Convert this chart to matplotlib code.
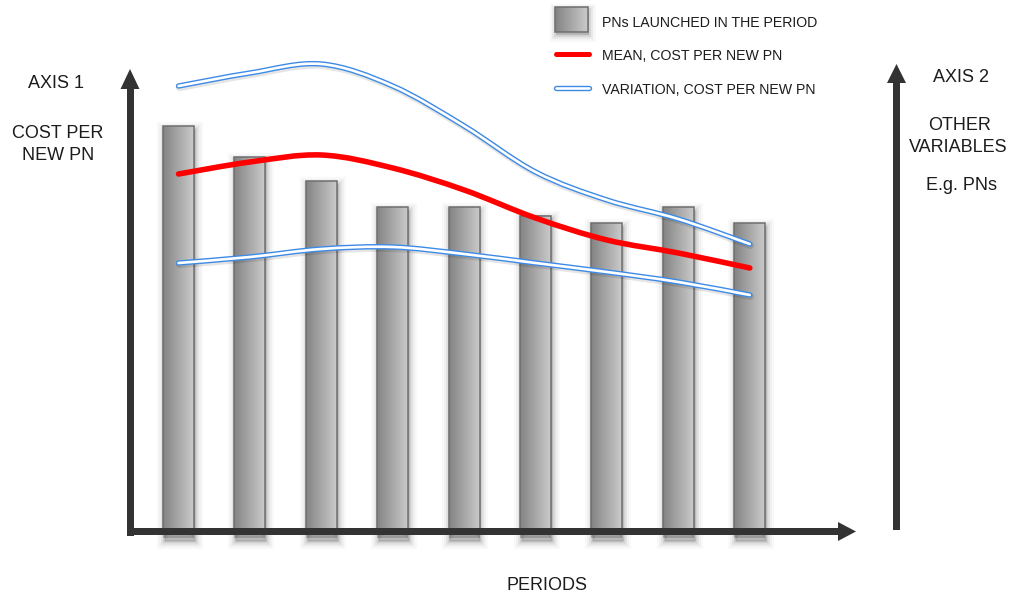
import numpy as np
import matplotlib
matplotlib.use("Agg")
import matplotlib.pyplot as plt
from matplotlib.path import Path
from matplotlib.patches import PathPatch, Polygon, Rectangle
from matplotlib.colors import LinearSegmentedColormap
import matplotlib.patheffects as pe

# ---- data -------------------------------------------------------------
periods = [1, 2, 3, 4, 5, 6, 7, 8, 9]
pns_launched = [101.5, 93.75, 87.75, 81.2, 81.2, 79.1, 77.25, 81.2, 77.25]
cost_mean = [89.5, 92.5, 94.25, 91.0, 85.5, 78.5, 73.0, 69.75, 66.0]
cost_upper = [111.5, 114.75, 117.0, 111.5, 101.5, 90.0, 83.0, 78.25, 72.0]
cost_lower = [67.25, 68.75, 70.75, 71.25, 69.5, 67.25, 65.0, 62.5, 59.25]

legend_labels = ["PNs LAUNCHED IN THE PERIOD",
                 "MEAN, COST PER NEW PN",
                 "VARIATION, COST PER NEW PN"]

# ---- style ------------------------------------------------------------
plt.rcParams["font.family"] = ["Liberation Sans", "DejaVu Sans"]
TXT = "#1c1c1c"
AXC = "#333333"
RED = "#ff0000"
BLUE = "#3d8be6"
bar_cmap = LinearSegmentedColormap.from_list("bar", ["#848484", "#cacaca"])
grad = np.linspace(0, 1, 64).reshape(1, -1)

W, H = 1014, 594
fig = plt.figure(figsize=(W / 100, H / 100), dpi=100)

# data axes: one period = 71.4 px, one value unit = 4 px
ax = fig.add_axes([0, 0, 1, 1])
ax.axis("off")

bar_w = 0.434
shadow_fx = [pe.Stroke(linewidth=lw, foreground="black", alpha=a, offset=(0.5, -2))
             for lw, a in [(11, 0.025), (8, 0.035), (5, 0.05), (2.5, 0.08)]]
ax.bar(periods, [h + 1.5 for h in pns_launched], bottom=-1.5, width=bar_w,
       facecolor=(0, 0, 0, 0.22), edgecolor="none", linewidth=1, zorder=1,
       path_effects=shadow_fx + [pe.Normal()])
for p, h in zip(periods, pns_launched):
    ax.imshow(grad, cmap=bar_cmap, aspect="auto", interpolation="bilinear",
              extent=[p - bar_w / 2, p + bar_w / 2, 0, h], zorder=2)
ax.bar(periods, pns_launched, width=bar_w, facecolor="none",
       edgecolor="#6e6e6e", linewidth=1.1, zorder=3)


def smooth_path(xs, ys):
    pts = np.column_stack([xs, ys]).astype(float)
    ext = np.vstack([pts[0], pts, pts[-1]])
    verts, codes = [pts[0]], [Path.MOVETO]
    for i in range(len(pts) - 1):
        p0, p1, p2, p3 = ext[i], ext[i + 1], ext[i + 2], ext[i + 3]
        verts += [p1 + (p2 - p0) / 6, p2 - (p3 - p1) / 6, p2]
        codes += [Path.CURVE4] * 3
    return Path(verts, codes)


def curve(path, color, lw, z, fx=None):
    patch = PathPatch(path, facecolor="none", edgecolor=color, linewidth=lw,
                      zorder=z, path_effects=fx)
    patch.set_capstyle("round")
    patch.set_joinstyle("round")
    ax.add_patch(patch)


line_shadow = [pe.Stroke(linewidth=5, foreground="black", alpha=0.10,
                         offset=(0.6, -1.2)), pe.Normal()]
for series in (cost_upper, cost_lower):
    path = smooth_path(periods, series)
    curve(path, BLUE, 3.9, 5, line_shadow)
    curve(path, "white", 1.9, 6)
curve(smooth_path(periods, cost_mean), RED, 4.0, 7)

ax.set_xlim(-1.5, 12.70)
ax.set_ylim(-15.5, 133)

# ---- overlay in pixel coordinates: axes arrows, labels, legend ---------
ov = fig.add_axes([0, 0, 1, 1], zorder=3)
ov.axis("off")
ov.patch.set_alpha(0)

# axis arrows
ov.add_patch(Rectangle((126.5, 88), 7, 536 - 88, color=AXC, lw=0))
ov.add_patch(Polygon([(120.5, 89), (139.5, 89), (130, 69)], color=AXC, lw=0))
ov.add_patch(Rectangle((126.5, 528), 839 - 126.5, 7, color=AXC, lw=0))
ov.add_patch(Polygon([(838, 522), (838, 541), (856, 531.5)], color=AXC, lw=0))
ov.add_patch(Rectangle((893, 82), 7, 530 - 82, color=AXC, lw=0))
ov.add_patch(Polygon([(887, 83), (906, 83), (896.5, 64)], color=AXC, lw=0))

# axis captions
big = dict(fontsize=13, color=TXT, ha="center", va="baseline")
ov.text(56, 88, "AXIS 1", **big)
ov.text(58, 138, "COST PER", **big)
ov.text(58, 160, "NEW PN", **big)
ov.text(961, 82, "AXIS 2", **big)
ov.text(960, 130, "OTHER", **big)
ov.text(958, 152, "VARIABLES", **big)
ov.text(961, 190, "E.g. PNs", **big)
ov.text(547, 590, "PERIODS", **big)

# legend
sw = Rectangle((555, 7), 33, 25, facecolor=(0, 0, 0, 0.2), edgecolor="none", lw=1,
               path_effects=[pe.Stroke(linewidth=lw, foreground="black", alpha=a,
                                       offset=(0.5, -2))
                             for lw, a in [(9, 0.03), (6, 0.05), (3, 0.08)]]
               + [pe.Normal()])
ov.add_patch(sw)
ov.imshow(grad, cmap=bar_cmap, aspect="auto", interpolation="bilinear",
          extent=[555, 588, 32, 7], zorder=2)
ov.add_patch(Rectangle((555, 7), 33, 25, facecolor="none",
                       edgecolor="#6e6e6e", lw=1.1, zorder=3))
ov.plot([556, 589], [54, 54], color=RED, lw=3.6, solid_capstyle="round")
ov.plot([556, 589], [88, 88], color=BLUE, lw=3.9, solid_capstyle="round")
ov.plot([556, 589], [88, 88], color="white", lw=1.9, solid_capstyle="round")
ov.set_xlim(0, W)
ov.set_ylim(H, 0)

small = dict(fontsize=10.2, color=TXT, ha="left", va="baseline")
for ty, lab in zip([27, 60.5, 94], legend_labels):
    ov.text(602, ty, lab, **small)

fig.savefig("out.png", dpi=100, facecolor="white")
